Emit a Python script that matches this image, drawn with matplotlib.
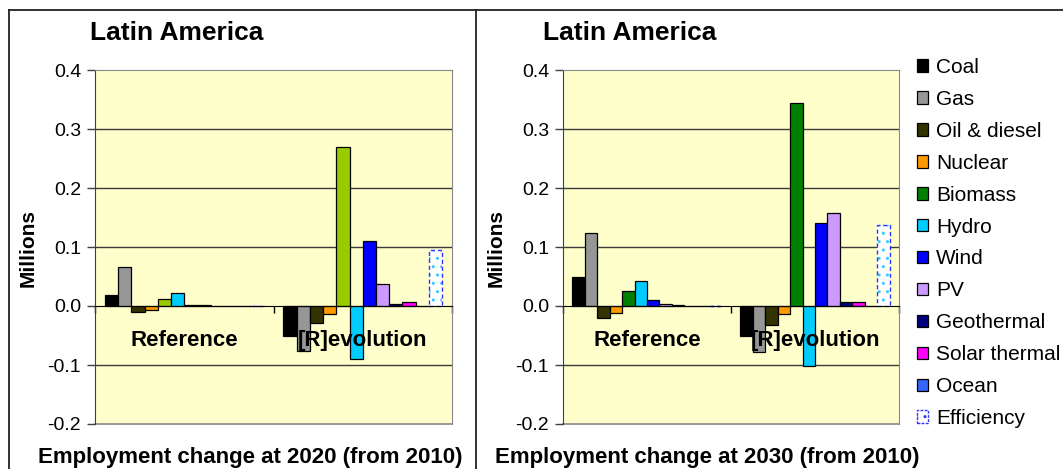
import matplotlib
matplotlib.use('Agg')
import matplotlib.pyplot as plt
import numpy as np
from matplotlib.lines import Line2D
from matplotlib.patches import Patch

plt.rcParams['font.family'] = ['Liberation Sans', 'DejaVu Sans']

# categories and series
scenarios = ['Reference', '[R]evolution']
techs = ['Coal', 'Gas', 'Oil & diesel', 'Nuclear', 'Biomass', 'Hydro', 'Wind', 'PV',
         'Geothermal', 'Solar thermal', 'Ocean', 'Efficiency']
colors = ['#000000', '#969696', '#333300', '#FF9900', '#008000', '#00CCFF', '#0000FF',
          '#CC99FF', '#000080', '#FF00FF', '#3366FF', '#FFFFFF']
biomass_2020_color = '#99CC00'

# employment change (millions), rows = scenario, cols = technology
change_2020 = [
    [0.019, 0.066, -0.010, -0.007, 0.012, 0.022, 0.002, 0.002, 0.0, 0.0, 0.0, 0.0],
    [-0.050, -0.076, -0.028, -0.013, 0.270, -0.090, 0.111, 0.038, 0.004, 0.007, 0.0, 0.095],
]
change_2030 = [
    [0.049, 0.123, -0.021, -0.012, 0.026, 0.042, 0.010, 0.003, 0.002, 0.0, 0.0, 0.0],
    [-0.050, -0.078, -0.033, -0.014, 0.344, -0.101, 0.141, 0.158, 0.007, 0.007, 0.0, 0.138],
]
yticks = [-0.2, -0.1, 0.0, 0.1, 0.2, 0.3, 0.4]

W, H = 1063, 469
fig = plt.figure(figsize=(W / 100, H / 100), dpi=100)


def fx(px):
    return px / W


def fy(py):
    return (H - py) / H


def draw_panel(ax, data, first_biomass_color):
    ax.set_facecolor('#FFFFCC')
    n = len(techs)
    w = 0.89 / n
    x = np.arange(len(scenarios))
    for i, tech in enumerate(techs):
        vals = [data[0][i], data[1][i]]
        pos = x + (i - (n - 1) / 2) * w
        if tech == 'Efficiency':
            ax.bar(pos, vals, w, color='white', edgecolor='#33CCFF', hatch='..',
                   linewidth=0, zorder=3)
            ax.bar(pos, vals, w, fill=False, edgecolor='#3333FF', linestyle=(0, (3, 2)),
                   linewidth=1, zorder=4)
        else:
            c = colors[i]
            if tech == 'Biomass':
                c = first_biomass_color
            ax.bar(pos, vals, w, color=c, edgecolor='black', linewidth=0.9, zorder=3)
    ax.set_xlim(-0.5, 1.5)
    ax.set_ylim(-0.2, 0.4)
    ax.set_yticks(yticks)
    ax.set_yticklabels([f'{v:.1f}' for v in yticks], fontsize=14)
    for v in yticks[1:-1]:
        if v != 0:
            ax.axhline(v, color='#3a3a3a', linewidth=1, zorder=1)
    ax.tick_params(axis='y', direction='out', length=6, width=1, color='#404040', pad=4)
    for s in ['top', 'right']:
        ax.spines[s].set_color('#888888')
    ax.spines['left'].set_color('#404040')
    ax.spines['bottom'].set_position(('data', 0))
    ax.spines['bottom'].set_color('black')
    ax.spines['bottom'].set_zorder(5)
    ax.axhline(-0.2, color='#888888', linewidth=1.2, clip_on=False, zorder=1)
    ax.set_xticks([-0.5, 0.5, 1.5])
    ax.set_xticklabels([])
    ax.tick_params(axis='x', direction='out', length=5, width=1, color='black')
    for xi, name in enumerate(scenarios):
        ax.text(xi, -0.058, name, ha='center', va='center', fontsize=16,
                fontweight='bold', zorder=6)


ax1 = fig.add_axes([fx(95), fy(424), fx(452 - 95), (424 - 70) / H])
ax2 = fig.add_axes([fx(563), fy(424), fx(899 - 563), (424 - 70) / H])
draw_panel(ax1, change_2020, biomass_2020_color)
draw_panel(ax2, change_2030, colors[4])

# panel frames
frame = dict(color='#222222', linewidth=1.3, transform=fig.transFigure)
fig.add_artist(Line2D([fx(9), 1], [fy(10), fy(10)], **frame))
fig.add_artist(Line2D([fx(9), fx(9)], [fy(10), 0], **frame))
fig.add_artist(Line2D([fx(476), fx(476)], [fy(10), 0], **frame))

# titles and axis labels
fig.text(fx(90), fy(33), 'Latin America', fontsize=19, fontweight='bold', va='center')
fig.text(fx(543), fy(33), 'Latin America', fontsize=19, fontweight='bold', va='center')
fig.text(fx(28), fy(248), 'Millions', fontsize=15, fontweight='bold', rotation=90,
         ha='center', va='center')
fig.text(fx(496), fy(248), 'Millions', fontsize=15, fontweight='bold', rotation=90,
         ha='center', va='center')
xlab = dict(fontsize=16, fontweight='bold', ha='center', va='center')
fig.text(fx(250), fy(457), 'Employment change at 2020 (from 2010)', **xlab)
fig.text(fx(707), fy(457), 'Employment change at 2030 (from 2010)', **xlab)

# legend
handles = []
for tech, c in zip(techs, colors):
    if tech == 'Efficiency':
        handles.append(Patch(facecolor='white', edgecolor='#3333FF', hatch='..',
                             linestyle=(0, (2, 1)), linewidth=1))
    else:
        handles.append(Patch(facecolor=c, edgecolor='black', linewidth=0.9))
fig.legend(handles, techs, loc='upper left', bbox_to_anchor=(fx(917), fy(58)),
           frameon=False, fontsize=15, handlelength=0.55, handleheight=0.55,
           handletextpad=0.35, labelspacing=0.62, borderaxespad=0, borderpad=0)

fig.savefig('out.png', dpi=100)
